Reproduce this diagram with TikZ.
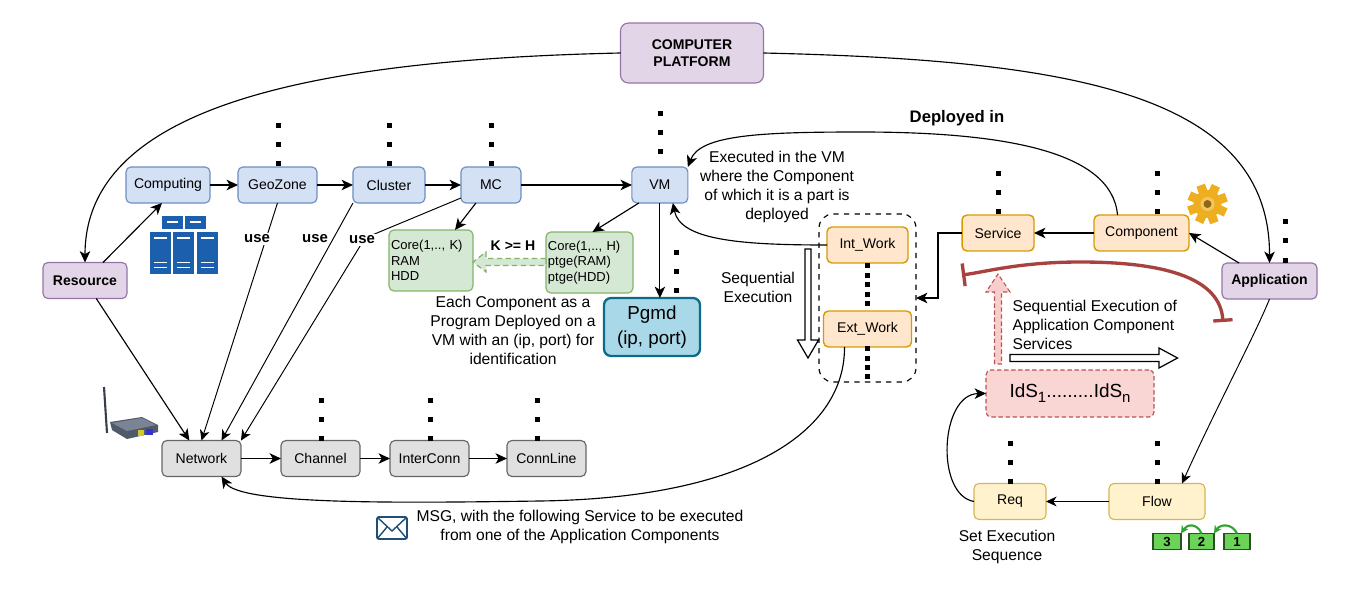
\documentclass[tikz,border=0pt]{standalone}
\usepackage{fontspec}
\setmainfont{Liberation Sans}
\usepackage{xcolor}
\usepackage{tikz}
\usetikzlibrary{positioning, arrows.meta, calc}

\definecolor{blueFill}{HTML}{D4E1F5}
\definecolor{blueLine}{HTML}{6C8EBF}
\definecolor{purpleFill}{HTML}{E1D5E7}
\definecolor{purpleLine}{HTML}{9673A6}
\definecolor{greenFill}{HTML}{D5E8D4}
\definecolor{greenLine}{HTML}{82B366}
\definecolor{orangeFill}{HTML}{FFE6CC}
\definecolor{orangeLine}{HTML}{D79B00}
\definecolor{yellowFill}{HTML}{FFF2CC}
\definecolor{yellowLine}{HTML}{D6B656}
\definecolor{grayFill}{HTML}{E0E0E0}
\definecolor{grayLine}{HTML}{666666}
\definecolor{pgmdFill}{HTML}{A9D8E8}
\definecolor{pgmdLine}{HTML}{0E6A8A}
\definecolor{redFill}{HTML}{F8CECC}
\definecolor{redLine}{HTML}{B85450}
\definecolor{inhibit}{HTML}{A8423F}
\definecolor{rackBlue}{HTML}{1B5FAD}
\definecolor{queueFill}{HTML}{6AD358}
\definecolor{queueLine}{HTML}{2A4F22}
\definecolor{queueArrow}{HTML}{2FA52F}
\definecolor{mailBlue}{HTML}{1F4E79}
\definecolor{gearGold}{HTML}{EDAE20}
\definecolor{routerBody}{HTML}{4F5A6B}
\definecolor{routerTop}{HTML}{7A8494}

% three dots above a box
\newcommand{\dotcolumn}[2]{
\foreach \i in {0,1,2}
  \fill ({#1-2.5},{#2+19*\i-2.5}) rectangle ++(5,5);
}

\begin{document}
\begin{tikzpicture}[
x=0.02cm, y=-0.02cm,
line width=0.65pt,
box/.style={
rectangle,
draw,
rounded corners=2.8pt,
minimum height=0.72cm,
inner sep=0pt,
outer sep=0pt,
align=center,
font=\fontsize{8}{9.6}\selectfont
},
bluebox/.style={box, fill=blueFill, draw=blueLine},
purplebox/.style={box, fill=purpleFill, draw=purpleLine, font=\fontsize{8}{10}\selectfont\bfseries},
graybox/.style={box, fill=grayFill, draw=grayLine, minimum width=1.58cm},
orangebox/.style={box, fill=orangeFill, draw=orangeLine, line width=0.8pt},
yellowbox/.style={box, fill=yellowFill, draw=yellowLine},
greenbox/.style={box, fill=greenFill, draw=greenLine, align=left, inner sep=0.04cm,
  text width=1.6cm, minimum height=1.22cm, font=\fontsize{7.4}{8.9}\selectfont},
queuebox/.style={rectangle, draw=queueLine, line width=1pt, fill=queueFill, inner sep=0pt, outer sep=0pt,
  minimum width=0.52cm, minimum height=0.32cm, font=\fontsize{7.5}{8}\selectfont\bfseries},
note/.style={align=center, inner sep=0pt, font=\fontsize{8.9}{10.8}\selectfont},
usenote/.style={inner sep=1pt, font=\fontsize{8.5}{10}\selectfont\bfseries},
arrow/.style={-{Stealth[length=6.5pt, width=6pt, inset=1.8pt]}},
thinarrow/.style={-{Stealth[length=6pt, width=5.6pt, inset=1.8pt]}, line width=0.55pt},
queuearrow/.style={-{Stealth[length=4.5pt, width=4.5pt]}, line width=1.2pt, queueArrow},
blockarrow/.style={draw, fill=white, line width=0.7pt, line join=miter}
]
\useasboundingbox (0,0) rectangle (1372,601);

% top and the two branches
\node[purplebox, rounded corners=4.5pt, minimum width=2.86cm, minimum height=1.2cm] (platform) at (692,53) {COMPUTER\\PLATFORM};
\node[purplebox, minimum width=1.68cm] (resource) at (85,280.5) {Resource};
\node[purplebox, minimum width=1.9cm] (application) at (1269.5,281) {Application};

% resource chain
\node[bluebox, minimum width=1.68cm] (computing) at (168,185) {Computing};
\node[bluebox, minimum width=1.58cm, right=0.56cm of computing] (geozone) {GeoZone};
\node[bluebox, minimum width=1.44cm, right=0.72cm of geozone] (cluster) {Cluster};
\node[bluebox, minimum width=1.2cm, right=0.72cm of cluster] (mc) {MC};
\node[bluebox, minimum width=1.12cm, right=2.22cm of mc] (vm) {VM};

\node[greenbox] (corek) at (431,260.5) {Core(1,.., K)\\RAM\\HDD};
\node[greenbox, text width=1.66cm, right=1.46cm of corek.east, yshift=-0.04cm, anchor=west] (coreh) {Core(1,.., H)\\ptge(RAM)\\ptge(HDD)};
\node[box, fill=pgmdFill, draw=pgmdLine, line width=1.3pt, rounded corners=4pt, minimum width=1.92cm, minimum height=1.16cm,
  font=\fontsize{10.7}{14}\selectfont] (pgmd) at (652,327) {Pgmd\\(ip, port)};

% network chain
\node[graybox] (network) at (201.5,458.5) {Network};
\node[graybox, right=0.8cm of network] (channel) {Channel};
\node[graybox, right=0.6cm of channel] (interconn) {InterConn};
\node[graybox, right=0.76cm of interconn] (connline) {ConnLine};

% application chain
\node[orangebox, minimum width=1.9cm] (component) at (1141.5,233) {Component};
\node[orangebox, minimum width=1.44cm, left=1.2cm of component] (service) {Service};
\node[orangebox, minimum width=1.62cm] (intwork) at (867.5,245) {Int\_Work};
\node[orangebox, minimum width=1.76cm, below=0.96cm of intwork] (extwork) {Ext\_Work};
\node[draw, dashed, rounded corners=8pt, minimum width=1.94cm, minimum height=3.36cm, inner sep=0pt, outer sep=0pt] (workgroup) at (867.5,298) {};

\node[box, fill=redFill!85!white, draw=redLine, dash pattern=on 2.5pt off 1.5pt, minimum width=3.36cm, minimum height=0.94cm,
  font=\fontsize{10.8}{13}\selectfont] (ids) at (1070,393.5) {IdS\raisebox{-2.8pt}{\fontsize{8.5}{9}\selectfont 1}.........IdS\raisebox{-2.8pt}{\fontsize{8.5}{9}\selectfont n}};
\node[yellowbox, minimum width=1.92cm] (flow) at (1157,501.5) {Flow};
\node[yellowbox, minimum width=1.44cm, left=1.26cm of flow] (req) {Req};

\node[queuebox, minimum width=0.56cm] (queuethree) at (1167,541.5) {3};
\node[queuebox, minimum width=0.5cm, right=0.16cm of queuethree] (queuetwo) {2};
\node[queuebox, right=0.2cm of queuetwo] (queueone) {1};

% texts
\node[usenote, fill=white] (usegeo) at (257,239) {use};
\node[usenote] (usecluster) at (315,239) {use};
\node[note, font=\fontsize{9.5}{11}\selectfont\bfseries] (deployed) at (957,118) {Deployed in};
\node[note] (executed) at (777,187) {Executed in the VM\\where the Component\\of which it is a part is\\deployed};
\node[note] (sequential) at (758,287) {Sequential\\Execution};
\node[note, font=\fontsize{8}{10}\selectfont\bfseries] (kgeh) at (513,246) {K >= H};
\node[note] (eachcomp) at (513,330) {Each Component as a\\Program Deployed on a\\VM with an (ip, port) for\\identification};
\node[note, align=left, anchor=west] (seqapp) at (1012,325) {Sequential Execution of\\Application Component\\Services};
\node[note] (msg) at (580,527) {MSG, with the following Service to be executed\\from one of the Application Components};
\node[note] (setexec) at (1007,547) {Set Execution\\Sequence};

% dots
\dotcolumn{278}{126}
\dotcolumn{389}{126}
\dotcolumn{491}{126}
\dotcolumn{660}{114}
\dotcolumn{676}{252}
\dotcolumn{321}{400}
\dotcolumn{430}{400}
\dotcolumn{537}{400}
\dotcolumn{998.5}{174}
\dotcolumn{1157.5}{174}
\dotcolumn{1285}{222}
\dotcolumn{1010}{443}
\dotcolumn{1157}{443}
\foreach \y in {265,275,284,294,303,348,358,367,376}
  \fill (865,\y-2.5) rectangle ++(5,5);

% connectors
\draw[arrow] (platform.west) .. controls (300,60) and (85,110) .. (resource.north);
\draw[arrow] (platform.east) .. controls (1060,60) and (1270,90) .. (application.north);
\draw[arrow] ($(resource.north)+(18,0)$) -- ($(computing.south)+(-6,0)$);
\draw[arrow] (resource.-58) -- (network.124);
\draw[arrow] (computing) -- (geozone);
\draw[arrow] (geozone) -- (cluster);
\draw[arrow] (cluster) -- (mc);
\draw[arrow] (mc) -- (vm);

\draw[thinarrow] (geozone.south) -- (network.north);
\node[usenote, fill=white] at (usegeo) {use};
\draw[thinarrow] (cluster.south west) -- ($(network.north)+(20,0)$);
\draw[thinarrow] ($(mc.south west)+(0,-5)$) -- (365,238) -- (network.north east);
\node[usenote, fill=white] (usemc) at (362,240) {use};

\draw[arrow] ($(mc.south)+(-15,0)$) -- ($(corek.north)+(24,0)$);
\draw[arrow] ($(vm.south)+(-21,0)$) -- ($(coreh.north)+(3,0)$);
\draw[arrow] (vm.south) -- (vm.south |- pgmd.north);

\draw[arrow] (network) -- (channel);
\draw[arrow] (channel) -- (interconn);
\draw[arrow] (interconn) -- (connline);

\draw[arrow] ($(component.north)+(-24,0)$) .. controls (1112,150) and (1000,132) .. (860,132)
  .. controls (760,132) and (700,135) .. (vm.north east);
\draw[arrow] (intwork.west) .. controls (740,245) and (680,240) .. ($(vm.south)+(13,0)$);
\draw[arrow] (component) -- (service);
\draw[arrow] (service.west) -- (938,233) -- (938,298) -- (workgroup.east);
\draw[arrow] (application.north west)+(17,0) -- (component.east);
\draw[arrow] ($(extwork.south)+(-23,0)$) .. controls (845,430) and (750,498) .. (540,501)
  .. controls (400,503) and (240,505) .. ($(network.south)+(20,0)$);
\draw[thinarrow] (application.south) .. controls (1255,335) and (1215,410) .. ($(flow.north)+(25,0)$);
\draw[thinarrow] (flow) -- (req);
\draw[arrow] (req.west) .. controls (935,495) and (940,394) .. (ids.west);

\coordinate (barright) at (1223,322);
\coordinate (barleft) at (962,275);
\draw[inhibit, line width=1.9pt, {Bar[width=11pt]}-{Bar[width=13pt]}] (barright) .. controls (1220,280) and (1170,262) .. (1080,262)
  .. controls (1020,262) and (985,272) .. (barleft);

\draw[queuearrow] (queuetwo.north) .. controls (1197,523) and (1187,524) .. (queuethree.north east);
\draw[queuearrow] (queueone.north) .. controls (1232,523) and (1220,524) .. (queuetwo.north east);

% block arrows
\draw[blockarrow] (805,249) -- (811,249) -- (811,340) -- (818.5,340) -- (808,358) -- (797.5,340) -- (805,340) -- cycle;
\draw[blockarrow] (1010,354.5) -- (1159,354.5) -- (1159,348) -- (1177.5,358) -- (1159,368) -- (1159,361.5) -- (1010,361.5) -- cycle;
\draw[fill=redFill, draw=redLine, dash pattern=on 2.5pt off 1.5pt, line width=0.6pt] (994.5,364) -- (994.5,292) -- (986,292) -- (998,274) -- (1010,292) -- (1001.5,292) -- (1001.5,364) -- cycle;
\draw[fill=greenFill, draw=greenLine, densely dashed, line width=0.7pt] (546,258.5) -- (486,258.5) -- (486,252) -- (473,262) -- (486,272) -- (486,265.5) -- (546,265.5) -- cycle;

% server icon
\foreach \x in {162,185}{
  \fill[rackBlue] (\x,216) rectangle ++(20.5,13);
  \fill[white] (\x+5,221.5) rectangle ++(10.5,1.2);
}
\foreach \x in {150,173,196.5}{
  \fill[rackBlue] (\x,232) rectangle ++(21,42);
  \fill[white] (\x+4,237.5) rectangle ++(13,1.4);
  \fill[white] (\x+4,262) rectangle ++(13,1.4);
  \fill[white] (\x+4,267) rectangle ++(13,1.4);
}

% router icon
\draw[line width=1.2pt, routerBody!70!black] (104,387) -- (107,433);
\fill[routerBody] (110,422) -- (142,417) -- (158,425) -- (158,432) -- (127,439) -- (112,430) -- cycle;
\fill[routerTop] (112,423) -- (142,418) -- (156,425) -- (127,431) -- cycle;
\fill[yellow!80!black] (138,430) rectangle (144,436);
\fill[blue!60!gray] (146,429) rectangle (153,435);

% gear icon
\foreach \a in {20,65,...,335}
  \fill[gearGold, rotate around={\a:(1207.5,204)}] (1203,184) rectangle (1212,195);
\fill[gearGold] (1207.5,204) circle (14);
\fill[gearGold!70!white] (1207.5,204) circle (7);
\fill[gearGold!60!black] (1207.5,204) circle (4);

% envelope icon
\draw[mailBlue, line width=1pt, rounded corners=1pt] (377,517) rectangle (407,539);
\draw[mailBlue, line width=0.8pt] (377,517) -- (392,531) -- (407,517);
\draw[mailBlue, line width=0.8pt] (377,539) -- (387,527) (407,539) -- (397,527);

\end{tikzpicture}
\end{document}
